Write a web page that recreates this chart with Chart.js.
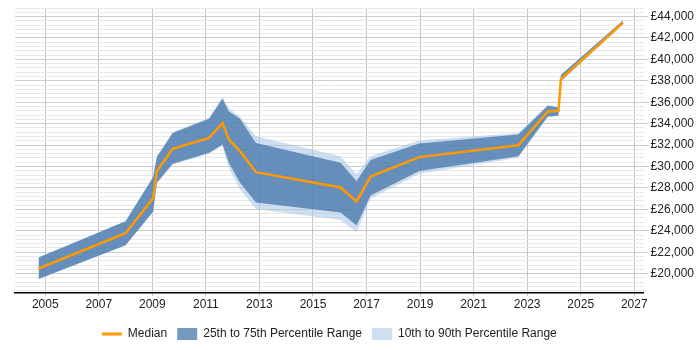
<!DOCTYPE html>
<html>
<head>
<meta charset="utf-8">
<script src="https://cdn.jsdelivr.net/npm/chart.js@4.4.0/dist/chart.umd.min.js"></script>
<style>
  html, body { margin: 0; padding: 0; background: #fff; }
</style>
</head>
<body>
<canvas id="chart" width="700" height="350"></canvas>
<script>
// time points (decimal years)
const years = [2004.75, 2008.0, 2009.03, 2009.17, 2009.76, 2011.12, 2011.62, 2011.86, 2012.27, 2012.87,
  2016.03, 2016.63, 2017.15, 2018.97, 2022.67, 2023.77, 2024.17, 2024.26, 2026.58];
const median = [20480, 23780, 27050, 29580, 31650, 32670, 34060, 32520, 31440, 29470,
  28040, 26740, 29060, 30880, 31990, 35140, 35200, 38170, 43440];
const p25 = [19490, 22640, 25800, 28500, 30260, 31280, 32060, 30350, 28500, 26650,
  25720, 24490, 27300, 29580, 30970, 34680, 34770, 37980, 43320];
const p75 = [21500, 24890, 29000, 30880, 33130, 34460, 36320, 35140, 34460, 32200,
  30350, 28660, 30600, 32150, 32980, 35670, 35510, 38540, 43630];
const p10 = [19490, 22640, 25750, 28400, 30200, 31200, 31950, 29830, 27890, 26040,
  25020, 23870, 27000, 29330, 30820, 34600, 34700, 37920, 43270];
const p90 = [21500, 24890, 29100, 30950, 33200, 34550, 36460, 35440, 34680, 32820,
  30970, 29280, 30970, 32430, 33130, 35750, 35580, 38600, 43680];
const xTickYears = [2005, 2007, 2009, 2011, 2013, 2015, 2017, 2019, 2021, 2023, 2025, 2027];
const yLabelStep = 2000; // labelled ticks
const yGridStep = 400;   // faint lines in between

const FONT = { family: "'Liberation Sans', Arial, sans-serif", size: 12 };
const pts = (arr) => arr.map((v, i) => ({ x: years[i], y: v }));

// legend is centred under the plot area, not the whole canvas
const legendUnderPlot = {
  id: "legendUnderPlot",
  afterLayout(chart) {
    chart.legend.left = chart.chartArea.left;
    chart.legend.right = chart.chartArea.right;
  },
};

const ctx = document.getElementById("chart").getContext("2d");

new Chart(ctx, {
  type: "line",
  plugins: [legendUnderPlot],
  data: {
    datasets: [
      {
        label: "Median",
        data: pts(median),
        borderColor: "#ff9900",
        backgroundColor: "#ff9900",
        borderWidth: 2.5,
        pointRadius: 0,
        pointBorderWidth: 3, // only used for the legend line
        pointStyle: "line",
        fill: false,
      },
      {
        label: "25th to 75th Percentile Range",
        data: pts(p75),
        borderWidth: 0,
        borderColor: "rgba(0,0,0,0)",
        backgroundColor: "rgba(64,112,166,0.72)",
        pointRadius: 0,
        pointBorderWidth: 0,
        pointStyle: "rect",
        fill: "+1",
      },
      {
        label: "p25",
        data: pts(p25),
        borderWidth: 0,
        pointRadius: 0,
        fill: false,
      },
      {
        label: "10th to 90th Percentile Range",
        data: pts(p90),
        borderWidth: 0,
        borderColor: "rgba(0,0,0,0)",
        backgroundColor: "rgba(164,196,228,0.55)",
        pointRadius: 0,
        pointBorderWidth: 0,
        pointStyle: "rect",
        fill: "+1",
      },
      {
        label: "p10",
        data: pts(p10),
        borderWidth: 0,
        pointRadius: 0,
        fill: false,
      },
    ],
  },
  options: {
    responsive: false,
    animation: false,
    devicePixelRatio: 1,
    layout: { padding: { left: 15, right: 4, top: 0, bottom: 0 } },
    plugins: {
      tooltip: { enabled: false },
      legend: {
        position: "bottom",
        // tiny empty title just to push the axis up a bit
        title: { display: true, text: " ", font: { size: 1 }, padding: { top: 0, bottom: 4 } },
        labels: {
          filter: (item) => item.text !== "p25" && item.text !== "p10",
          usePointStyle: true,
          pointStyleWidth: 20,
          boxHeight: 12,
          padding: 10,
          color: "#222",
          font: FONT,
        },
      },
    },
    scales: {
      x: {
        type: "linear",
        bounds: "data",
        min: 2003.87,
        max: 2027.35,
        afterBuildTicks: (scale) => {
          scale.ticks = xTickYears.map((v) => ({ value: v }));
        },
        ticks: {
          callback: (v) => String(v),
          autoSkip: false,
          maxRotation: 0,
          padding: 1,
          color: "#222",
          font: FONT,
        },
        grid: { color: "#c4c4c4", tickLength: 4 },
        border: { color: "#000", width: 1.5 },
      },
      y: {
        position: "right",
        bounds: "data",
        min: 18250,
        max: 44800,
        afterBuildTicks: (scale) => {
          const t = [];
          for (let v = Math.ceil(scale.min / yGridStep) * yGridStep; v <= scale.max; v += yGridStep) {
            t.push({ value: v });
          }
          scale.ticks = t;
        },
        ticks: {
          autoSkip: false,
          padding: 2,
          color: "#222",
          font: { ...FONT, lineHeight: 1 },
          callback: (v) => (v % yLabelStep === 0 ? "£" + v.toLocaleString("en-GB") : ""),
        },
        grid: {
          color: (c) => (c.tick && c.tick.value % yLabelStep === 0 ? "#cdcdcd" : "#e8e8e8"),
          tickColor: (c) => (c.tick && c.tick.value % yLabelStep === 0 ? "#cdcdcd" : "rgba(0,0,0,0)"),
          tickLength: 5,
        },
        border: { display: false },
      },
    },
  },
});
</script>
</body>
</html>
